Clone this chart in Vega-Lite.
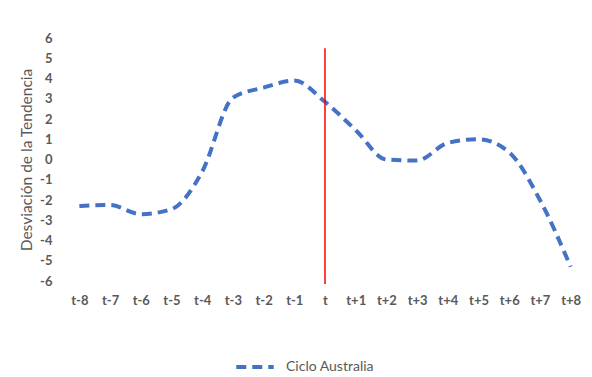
{
  "$schema": "https://vega.github.io/schema/vega-lite/v6.json",
  "autosize": "none",
  "width": 522,
  "height": 243,
  "padding": {"left": 64, "top": 38, "right": 6, "bottom": 96},
  "background": "white",
  "config": {
    "view": {"stroke": null},
    "font": "Lato",
    "axis": {"labelOverlap": false}
  },
  "datasets": {
    "serie": [
      {"periodo": "t-8", "valor": -2.3, "serie": "Ciclo Australia"},
      {"periodo": "t-7", "valor": -2.25, "serie": "Ciclo Australia"},
      {"periodo": "t-6", "valor": -2.7, "serie": "Ciclo Australia"},
      {"periodo": "t-5", "valor": -2.45, "serie": "Ciclo Australia"},
      {"periodo": "t-4", "valor": -0.6, "serie": "Ciclo Australia"},
      {"periodo": "t-3", "valor": 3.05, "serie": "Ciclo Australia"},
      {"periodo": "t-2", "valor": 3.55, "serie": "Ciclo Australia"},
      {"periodo": "t-1", "valor": 3.9, "serie": "Ciclo Australia"},
      {"periodo": "t", "valor": 2.85, "serie": "Ciclo Australia"},
      {"periodo": "t+1", "valor": 1.45, "serie": "Ciclo Australia"},
      {"periodo": "t+2", "valor": 0.0, "serie": "Ciclo Australia"},
      {"periodo": "t+3", "valor": -0.05, "serie": "Ciclo Australia"},
      {"periodo": "t+4", "valor": 0.82, "serie": "Ciclo Australia"},
      {"periodo": "t+5", "valor": 1.0, "serie": "Ciclo Australia"},
      {"periodo": "t+6", "valor": 0.35, "serie": "Ciclo Australia"},
      {"periodo": "t+7", "valor": -2.0, "serie": "Ciclo Australia"},
      {"periodo": "t+8", "valor": -5.3, "serie": "Ciclo Australia"}
    ],
    "corte": [
      {"periodo": "t", "arriba": 5.5, "abajo": -6.15}
    ]
  },
  "layer": [
    {
      "data": {"name": "serie"},
      "mark": {"type": "line", "interpolate": "monotone", "strokeWidth": 4, "strokeDash": [10, 6], "strokeCap": "butt"},
      "encoding": {
        "x": {
          "field": "periodo", "type": "ordinal", "sort": null,
          "scale": {"type": "point", "padding": 0.5, "domain": ["t-8","t-7","t-6","t-5","t-4","t-3","t-2","t-1","t","t+1","t+2","t+3","t+4","t+5","t+6","t+7","t+8"]},
          "axis": {"title": null, "labelAngle": 0, "domain": false, "ticks": false, "tickSize": 0, "labelPadding": 13, "labelFontSize": 13, "labelFontWeight": "bold", "labelColor": "#595959", "grid": false}
        },
        "y": {
          "field": "valor", "type": "quantitative",
          "scale": {"domain": [-6, 6], "nice": false, "zero": false},
          "axis": {"title": "Desviación de la Tendencia", "values": [-6,-5,-4,-3,-2,-1,0,1,2,3,4,5,6], "labelExpr": "'' + datum.value", "labelOverlap": false, "labelBound": false, "domain": false, "ticks": false, "tickSize": 0, "labelPadding": 12, "labelFontSize": 13, "labelFontWeight": "bold", "labelColor": "#595959", "grid": false, "titleFontSize": 15.5, "titleFontWeight": "normal", "titleColor": "#595959", "titlePadding": 5}
        },
        "color": {
          "field": "serie", "type": "nominal",
          "scale": {"range": ["#4472C4"]},
          "legend": {"title": null, "orient": "none", "legendX": 170, "legendY": 308, "padding": 0, "symbolType": "stroke", "symbolStrokeWidth": 4, "symbolDash": [10, 6], "symbolSize": 1400, "labelFontSize": 14, "labelColor": "#595959", "labelOffset": 10}
        }
      }
    },
    {
      "data": {"name": "corte"},
      "mark": {"type": "rule", "color": "#FF0000", "strokeWidth": 1.5},
      "encoding": {
        "x": {"field": "periodo", "type": "ordinal"},
        "y": {"field": "arriba", "type": "quantitative", "axis": null},
        "y2": {"field": "abajo"}
      }
    }
  ],
  "resolve": {"axis": {"y": "independent"}}
}
